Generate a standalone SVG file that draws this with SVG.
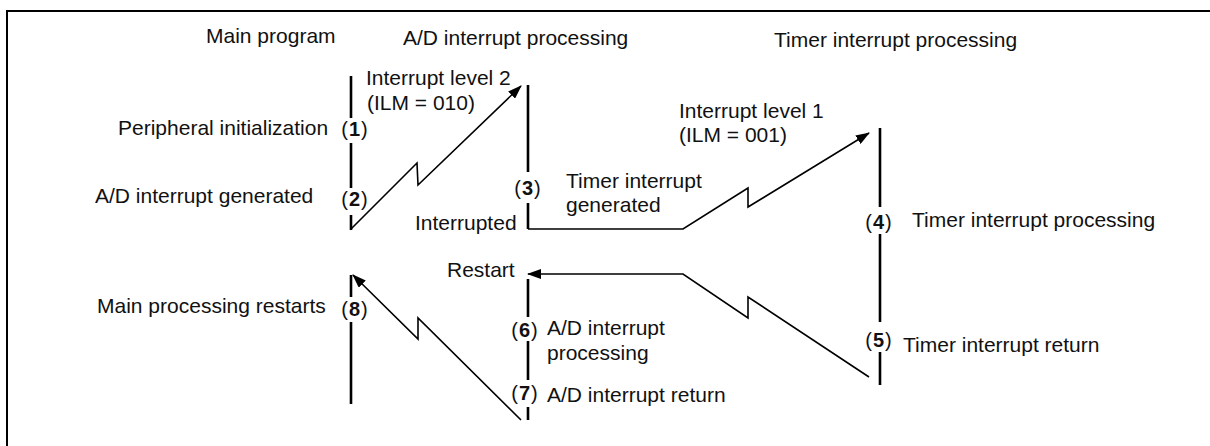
<svg xmlns="http://www.w3.org/2000/svg" width="1210" height="446" viewBox="0 0 1210 446">
<style>
text{font-family:"Liberation Sans",Arial,sans-serif;font-size:21px;fill:#111}
.num{font-size:20px;text-anchor:middle;letter-spacing:1px}
.num tspan{font-weight:bold}
.life{stroke:#000;stroke-width:2.6;fill:none}
.conn{stroke:#000;stroke-width:1.6;fill:none;stroke-linejoin:miter}
.frame{stroke:#000;stroke-width:2;fill:none}
</style>
<defs>
<marker id="ah" markerUnits="userSpaceOnUse" markerWidth="14" markerHeight="10" refX="13" refY="5" orient="auto">
<path d="M0,0 L14,5 L0,10 Z" fill="#000"/>
</marker>
</defs>
<rect width="1210" height="446" fill="#fff"/>
<path class="frame" d="M7,446 V11 H1210"/>

<g id="main-program">
<text x="206" y="43">Main program</text>
<path class="life" d="M351,76 V118 M351,143 V188 M351,215 V230"/>
<text x="118" y="135">Peripheral initialization</text>
<text class="num" x="355" y="136">(<tspan>1</tspan>)</text>
<text x="95" y="203">A/D interrupt generated</text>
<text class="num" x="355" y="206">(<tspan>2</tspan>)</text>
</g>

<g id="main-restart">
<path class="life" d="M351,275 V297 M351,322 V404"/>
<text x="97" y="313">Main processing restarts</text>
<text class="num" x="355" y="316">(<tspan>8</tspan>)</text>
</g>

<g id="ad-interrupt">
<text x="403" y="45">A/D interrupt processing</text>
<path class="life" d="M528,85 V172 M528,203 V229"/>
<text class="num" x="528" y="195">(<tspan>3</tspan>)</text>
<text x="415" y="230">Interrupted</text>
<text x="566" y="188">Timer interrupt</text>
<text x="566" y="212">generated</text>
</g>

<g id="ad-restart">
<path class="life" d="M528,279 V317 M528,341 V380 M528,407 V420"/>
<text x="447" y="277">Restart</text>
<text class="num" x="525" y="337">(<tspan>6</tspan>)</text>
<text x="547" y="335">A/D interrupt</text>
<text x="547" y="360">processing</text>
<text class="num" x="525" y="400">(<tspan>7</tspan>)</text>
<text x="547" y="402">A/D interrupt return</text>
</g>

<g id="timer-interrupt">
<text x="774" y="47">Timer interrupt processing</text>
<path class="life" d="M880,128 V207 M880,234 V322 M880,352 V385"/>
<text class="num" x="879" y="229">(<tspan>4</tspan>)</text>
<text x="912" y="227">Timer interrupt processing</text>
<text class="num" x="879" y="347">(<tspan>5</tspan>)</text>
<text x="903" y="352">Timer interrupt return</text>
</g>

<g id="connectors">
<path class="conn" d="M351,229 L417,163 L418,185 L521,86" marker-end="url(#ah)"/>
<text x="366" y="85">Interrupt level 2</text>
<text x="367" y="110">(ILM = 010)</text>
<path class="conn" d="M528,229 H683 L748,188 L748,207 L869,133" marker-end="url(#ah)"/>
<text x="679" y="118">Interrupt level 1</text>
<text x="679" y="142">(ILM = 001)</text>
<path class="conn" d="M869,377 L748,297 L748,318 L683,274 H528" marker-end="url(#ah)"/>
<path class="conn" d="M521,420 L418,318 L418,339 L353,275" marker-end="url(#ah)"/>
</g>
</svg>
